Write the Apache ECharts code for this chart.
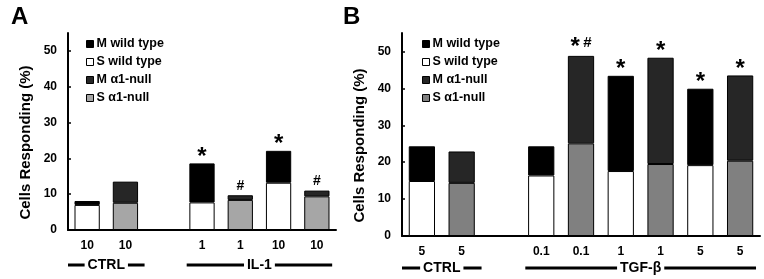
<!DOCTYPE html>
<html>
<head>
<meta charset="utf-8">
<script src="https://cdn.jsdelivr.net/npm/echarts@6/dist/echarts.min.js"></script>
<style>
html,body{margin:0;padding:0;background:#fff}
#main{width:764px;height:279px}
</style>
</head>
<body>
<div id="main"></div>
<script>
var FONT = '"Liberation Sans", Arial, sans-serif';
var names = ['M wild type', 'S wild type', 'M α1-null', 'S α1-null'];

// panel A (IL-1)
var catsA = ['10', '10', '', '1', '1', '10', '10'];
var sWildA = [7.0, '-', '-', 7.7, '-', 13.2, '-'];
var mWildA = [1.1, '-', '-', 10.9, '-', 8.9, '-'];
var sNullA = ['-', 7.6, '-', '-', 8.4, '-', 9.4];
var mNullA = ['-', 5.9, '-', '-', 1.3, '-', 1.6];
var marksA = ['', '', '', '*', '#', '*', '#'];
var groupsA = [['CTRL', 0, 1], ['IL-1', 3, 6]];

// panel B (TGF-β)
var catsB = ['5', '5', '', '0.1', '0.1', '1', '1', '5', '5'];
var sWildB = [14.9, '-', '-', 16.4, '-', 17.6, '-', 19.2, '-'];
var mWildB = [9.4, '-', '-', 7.9, '-', 25.8, '-', 20.7, '-'];
var sNullB = ['-', 14.4, '-', '-', 25.1, '-', 19.5, '-', 20.4];
var mNullB = ['-', 8.5, '-', '-', 23.7, '-', 28.8, '-', 23.1];
var marksB = ['', '', '', '', '*#', '*', '*', '*', '*'];
var groupsB = [['CTRL', 0, 1], ['TGF-β', 3, 8]];

var markText = {'*': '{s|*}', '#': '{h|#}', '*#': '{s|*} {h2|#}'};

function topLabel(marks) {
  return {
    show: true,
    position: 'top',
    distance: 1,
    formatter: function (p) { return markText[marks[p.dataIndex]] || ''; },
    rich: {
      s: {fontSize: 24, fontWeight: 'bold', color: '#000', fontFamily: FONT, lineHeight: 18, padding: [8, 0, 0, 0]},
      h: {fontSize: 14, fontWeight: 'bold', color: '#000', fontFamily: FONT, lineHeight: 16},
      h2: {fontSize: 15, fontWeight: 'bold', color: '#000', fontFamily: FONT, lineHeight: 24}
    }
  };
}

function bar(name, gi, stack, data, color, label) {
  var s = {
    name: name, type: 'bar', xAxisIndex: gi, yAxisIndex: gi, stack: stack,
    barWidth: '66%', data: data,
    itemStyle: {color: color, borderColor: '#000', borderWidth: 1},
    emphasis: {disabled: true}
  };
  if (label) s.label = label;
  return s;
}

function yAxis(gi) {
  return {
    type: 'value', gridIndex: gi, min: 0, max: 55, interval: 10,
    name: 'Cells Responding (%)', nameLocation: 'middle', nameGap: 35,
    nameTextStyle: {fontSize: 15, fontWeight: 'bold', color: '#000', fontFamily: FONT, padding: [0, 22, 0, 0]},
    axisLine: {show: true, lineStyle: {color: '#000', width: 2}},
    axisTick: {show: true, inside: true, length: 3, lineStyle: {color: '#000', width: 1.5}},
    axisLabel: {showMaxLabel: false, fontSize: 12, fontWeight: 'bold', color: '#000', fontFamily: FONT, margin: 11},
    splitLine: {show: false}
  };
}

function xAxis(gi, cats) {
  return {
    type: 'category', gridIndex: gi, data: cats,
    axisLine: {lineStyle: {color: '#000', width: 2}},
    axisTick: {show: false},
    axisLabel: {interval: 0, margin: 10, fontSize: 12, fontWeight: 'bold', color: '#000', fontFamily: FONT}
  };
}

function legend(left, nullColor) {
  return {
    orient: 'vertical', left: left, top: 32, itemWidth: 7, itemHeight: 7, itemGap: 4,
    icon: 'rect', selectedMode: false,
    textStyle: {fontSize: 12.5, fontWeight: 'bold', color: '#000', fontFamily: FONT, lineHeight: 14, padding: [0, 0, 0, -2]},
    data: [
      {name: names[0], itemStyle: {color: '#000', borderColor: '#000', borderWidth: 1}},
      {name: names[1], itemStyle: {color: '#fff', borderColor: '#000', borderWidth: 1}},
      {name: names[2], itemStyle: {color: '#262626', borderColor: '#000', borderWidth: 1}},
      {name: names[3], itemStyle: {color: nullColor, borderColor: '#000', borderWidth: 1}}
    ]
  };
}

var chart = echarts.init(document.getElementById('main'));
chart.setOption({
  animation: false,
  backgroundColor: '#fff',
  grid: [
    {left: 68, top: 33, width: 268, height: 197},
    {left: 402, top: 33, width: 358, height: 203}
  ],
  legend: [legend(81, '#a6a6a6'), legend(417, '#808080')],
  xAxis: [xAxis(0, catsA), xAxis(1, catsB)],
  yAxis: [yAxis(0), yAxis(1)],
  series: [
    bar(names[1], 0, 'A', sWildA, '#fff'),
    bar(names[0], 0, 'A', mWildA, '#000', topLabel(marksA)),
    bar(names[3], 0, 'A', sNullA, '#a6a6a6'),
    bar(names[2], 0, 'A', mNullA, '#262626', topLabel(marksA)),
    bar(names[1], 1, 'B', sWildB, '#fff'),
    bar(names[0], 1, 'B', mWildB, '#000', topLabel(marksB)),
    bar(names[3], 1, 'B', sNullB, '#808080'),
    bar(names[2], 1, 'B', mNullB, '#262626', topLabel(marksB))
  ]
});

// group labels under the category axis, placed from the axis scale
function groupGraphics(gi, groups, y) {
  var out = [];
  var x0 = chart.convertToPixel({xAxisIndex: gi}, 0);
  var slot = chart.convertToPixel({xAxisIndex: gi}, 1) - x0;
  groups.forEach(function (g) {
    var pad = g[0] === 'CTRL' ? 0.5 : 0.4;
    var a = chart.convertToPixel({xAxisIndex: gi}, g[1]) - pad * slot;
    var b = chart.convertToPixel({xAxisIndex: gi}, g[2]) + pad * slot;
    out.push({type: 'line', shape: {x1: a, y1: y, x2: b, y2: y}, style: {stroke: '#000', lineWidth: 3}});
    out.push({type: 'text', x: (a + b) / 2, y: y, style: {
      text: g[0], fill: '#000', font: 'bold 14px ' + FONT, align: 'center', verticalAlign: 'middle',
      backgroundColor: '#fff', padding: [0, 3]
    }});
  });
  return out;
}

chart.setOption({
  graphic: [
    {type: 'text', left: 11, top: 5, style: {text: 'A', fill: '#000', font: 'bold 24px ' + FONT}},
    {type: 'text', left: 343, top: 5, style: {text: 'B', fill: '#000', font: 'bold 24px ' + FONT}}
  ].concat(groupGraphics(0, groupsA, 265), groupGraphics(1, groupsB, 268))
});
</script>
</body>
</html>
